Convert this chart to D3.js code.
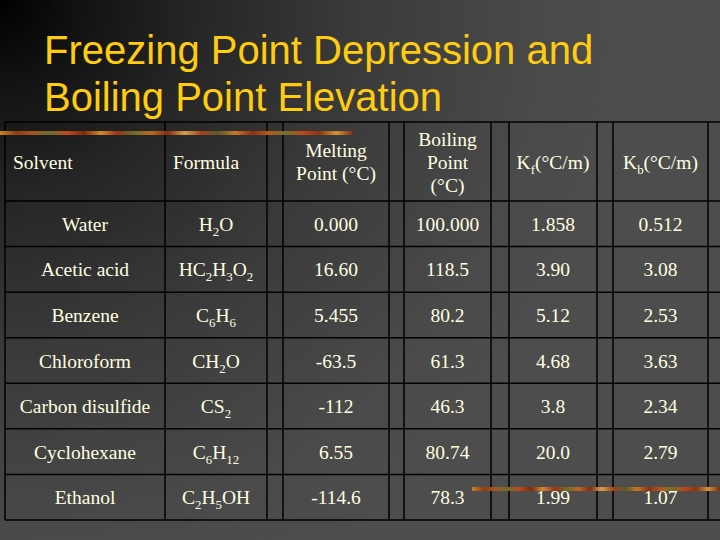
<!DOCTYPE html>
<html>
<head>
<meta charset="utf-8">
<script src="https://cdn.jsdelivr.net/npm/d3@7"></script>
<style>
  html, body { margin: 0; padding: 0; background: #000; }
  svg { display: block; }
</style>
</head>
<body>
<svg id="slide" width="720" height="540"></svg>
<script>
// table content
var title = ["Freezing Point Depression and", "Boiling Point Elevation"];
var solvents = ["Water", "Acetic acid", "Benzene", "Chloroform", "Carbon disulfide", "Cyclohexane", "Ethanol"];
var formulas = ["H_2O", "HC_2H_3O_2", "C_6H_6", "CH_2O", "CS_2", "C_6H_12", "C_2H_5OH"];
var meltingPoints = ["0.000", "16.60", "5.455", "-63.5", "-112", "6.55", "-114.6"];
var boilingPoints = ["100.000", "118.5", "80.2", "61.3", "46.3", "80.74", "78.3"];
var kfValues = ["1.858", "3.90", "5.12", "4.68", "3.8", "20.0", "1.99"];
var kbValues = ["0.512", "3.08", "2.53", "3.63", "2.34", "2.79", "1.07"];
var headers = [["Solvent"], ["Formula"], ["Melting", "Point (°C)"], ["Boiling", "Point", "(°C)"], ["K_f(°C/m)"], ["K_b(°C/m)"]];

// layout: column edges (px) incl. the narrow empty spacer columns
var colEdges = [5, 165, 267, 283, 389, 404, 491, 509, 597, 613, 708, 726];
var dataCols = [0, 1, 3, 5, 7, 9]; // index of left edge for each real column
var headerAlign = ["start", "start", "middle", "middle", "middle", "middle"];

var svg = d3.select("#slide");
var W = 720, H = 540;
var txtColor = "#ffffe0";

// background: dark corner top-left fading to grey
var defs = svg.append("defs");
var bg = defs.append("radialGradient").attr("id", "bg")
  .attr("gradientUnits", "userSpaceOnUse")
  .attr("cx", 0).attr("cy", 0).attr("r", 640);
[[0, "#000"], [0.12, "#111"], [0.3, "#252525"], [0.55, "#3a3a3a"], [0.85, "#4a4a4a"], [1, "#4d4d4d"]]
  .forEach(function(s) { bg.append("stop").attr("offset", s[0]).attr("stop-color", s[1]); });
svg.append("rect").attr("width", W).attr("height", H).attr("fill", "url(#bg)");

// textured stripe, faked with a many-stop gradient
var stripeCols = ["#c9861f", "#8e3b12", "#a4581d", "#6e6a2b", "#c44a18", "#7b2a0f", "#d18a2c", "#9a3316",
  "#6d6d2e", "#b9691f", "#8a2a12", "#d6a04a", "#a0401a", "#5f5a25", "#c77a22", "#912f14",
  "#b35a1c", "#74702c", "#c0461a", "#8c3412", "#d49436", "#7e2c10"];
var stripe = defs.append("linearGradient").attr("id", "stripe");
stripeCols.forEach(function(c, i) {
  stripe.append("stop").attr("offset", i / (stripeCols.length - 1)).attr("stop-color", c);
});

// table rows
var tableTop = 122, headBottom = 201, tableBottom = 520;
var y = d3.scaleBand().domain(d3.range(solvents.length)).range([headBottom, tableBottom]);

// grid lines
var grid = svg.append("g").attr("stroke", "#000").attr("stroke-width", 1.5);
var hLines = [tableTop].concat(y.domain().map(function(i) { return y(i); })).concat([tableBottom]);
grid.selectAll("line.h").data(hLines).enter().append("line")
  .attr("x1", colEdges[0]).attr("x2", W)
  .attr("y1", function(d) { return d; }).attr("y2", function(d) { return d; });
grid.selectAll("line.v").data(colEdges).enter().append("line")
  .attr("x1", function(d) { return d; }).attr("x2", function(d) { return d; })
  .attr("y1", tableTop).attr("y2", tableBottom);

svg.append("rect").attr("x", 0).attr("y", 131).attr("width", 353).attr("height", 4).attr("fill", "url(#stripe)");
svg.append("rect").attr("x", 472).attr("y", 487).attr("width", 248).attr("height", 4).attr("fill", "url(#stripe)");

// title
svg.selectAll("text.title").data(title).enter().append("text")
  .attr("class", "title")
  .attr("x", 44)
  .attr("y", function(d, i) { return 64 + i * 47; })
  .attr("fill", "#ffcc0f")
  .style("font-family", "'Liberation Sans', Arial, sans-serif")
  .style("font-size", "40px")
  .text(function(d) { return d; });

// write text with "_n" subscripts as tspans
function rich(sel, str, size) {
  var parts = str.split(/_([0-9a-z]+)/);
  parts.forEach(function(p, i) {
    if (!p) return;
    var t = sel.append("tspan").text(p);
    if (i % 2 === 1) {
      t.style("font-size", (size * 0.66) + "px").attr("dy", 5);
    } else if (i > 0) {
      t.attr("dy", -5);
    }
  });
}

var fontFam = "'Liberation Serif', 'Times New Roman', serif";
var fs = 19.5;

// header
var hg = svg.append("g").style("font-family", fontFam).style("font-size", fs + "px").attr("fill", txtColor);
headers.forEach(function(lines, c) {
  var x0 = colEdges[dataCols[c]], x1 = colEdges[dataCols[c] + 1];
  var x = headerAlign[c] === "start" ? x0 + 8 : (x0 + x1) / 2;
  var mid = (tableTop + headBottom) / 2;
  lines.forEach(function(l, k) {
    var t = hg.append("text")
      .attr("x", x)
      .attr("y", mid + 7 + (k - (lines.length - 1) / 2) * 23)
      .attr("text-anchor", headerAlign[c]);
    rich(t, l, fs);
  });
});

// body
var columns = [solvents, formulas, meltingPoints, boilingPoints, kfValues, kbValues];
var body = svg.append("g").style("font-family", fontFam).style("font-size", fs + "px").attr("fill", txtColor);
columns.forEach(function(vals, c) {
  var x0 = colEdges[dataCols[c]], x1 = colEdges[dataCols[c] + 1];
  body.selectAll(null).data(vals).enter().append("text")
    .attr("x", (x0 + x1) / 2)
    .attr("y", function(d, i) { return y(i) + y.bandwidth() / 2 + 7; })
    .attr("text-anchor", "middle")
    .each(function(d) { rich(d3.select(this), d, fs); });
});
</script>
</body>
</html>
